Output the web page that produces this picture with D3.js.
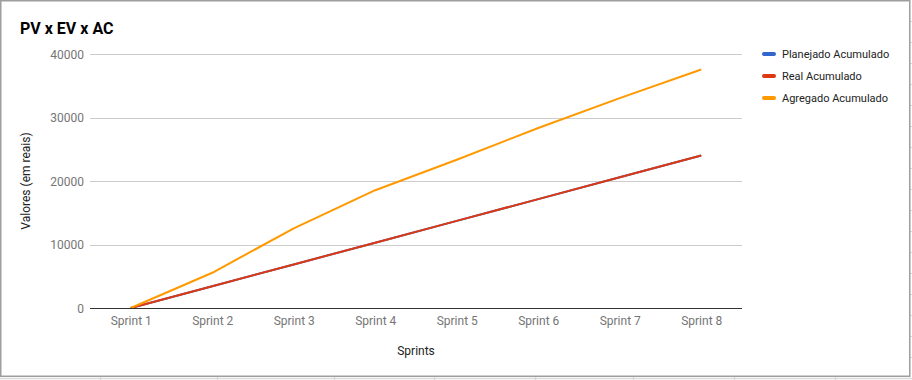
<!DOCTYPE html>
<html>
<head>
<meta charset="utf-8">
<script src="https://cdn.jsdelivr.net/npm/d3@7"></script>
<style>
html,body{margin:0;padding:0;background:#fff;}
svg{display:block;font-family:Roboto, "Noto Sans", Arial, sans-serif;}
</style>
</head>
<body>
<svg id="chart" width="912" height="380"></svg>
<script>
const categories = ["Sprint 1","Sprint 2","Sprint 3","Sprint 4","Sprint 5","Sprint 6","Sprint 7","Sprint 8"];
const planejado = [0, 3430, 6860, 10290, 13720, 17150, 20580, 24010];
const real      = [0, 3430, 6860, 10290, 13720, 17150, 20580, 24010];
const agregado  = [0, 5550, 12550, 18550, 23350, 28350, 33050, 37550];
const yTicks = [0, 10000, 20000, 30000, 40000];
const seriesNames = ["Planejado Acumulado","Real Acumulado","Agregado Acumulado"];
const seriesColors = ["#3366cc","#dc3912","#ff9900"];
const sheetColumns = [100, 217, 334, 434, 535, 633, 734, 835];
const sheetRows = [21, 42, 63, 84, 105, 126, 147, 168, 189, 210, 231, 252, 273, 294, 315, 336, 357];

(function(){
const svg = d3.select("#chart");

const sheet = svg.append("g");
sheet.append("line").attr("x1",0).attr("x2",912).attr("y1",378.5).attr("y2",378.5)
  .attr("stroke","#d9d9d9").attr("stroke-width",1.5);
sheet.selectAll("line.col").data(sheetColumns).enter().append("line")
  .attr("x1",d=>d+0.5).attr("x2",d=>d+0.5).attr("y1",377).attr("y2",380)
  .attr("stroke","#d9d9d9").attr("stroke-width",1.5);
sheet.selectAll("line.row").data(sheetRows).enter().append("line")
  .attr("x1",910).attr("x2",912).attr("y1",d=>d+0.5).attr("y2",d=>d+0.5)
  .attr("stroke","#d9d9d9");

svg.append("rect").attr("x",0.75).attr("y",0.75).attr("width",909).attr("height",375.5)
  .attr("fill","#fff").attr("stroke","#9e9e9e").attr("stroke-width",1.5);

const pLeft = 90, pRight = 742, pTop = 54, pBottom = 308;
const x = d3.scalePoint().domain(categories).range([pLeft, pRight]).padding(0.5);
const y = d3.scaleLinear().domain([0, 40000]).range([pBottom, pTop]);

svg.append("g").selectAll("line").data(yTicks.filter(d=>d!==0)).enter().append("line")
  .attr("x1",pLeft).attr("x2",pRight).attr("y1",d=>Math.round(y(d))+0.5).attr("y2",d=>Math.round(y(d))+0.5)
  .attr("stroke","#cccccc").attr("stroke-width",1);

const yAxis = d3.axisLeft(y).tickValues(yTicks).tickSize(0).tickPadding(0).tickFormat(d3.format("d"));
const yg = svg.append("g").attr("transform",`translate(${pLeft-6},0)`).call(yAxis);
yg.select(".domain").remove();
yg.selectAll("text").attr("fill","#757575").attr("font-size","12px").attr("font-family","Roboto").attr("dy","0.35em");

const xAxis = d3.axisBottom(x).tickSize(0).tickPadding(0);
const xg = svg.append("g").attr("transform",`translate(0,${pBottom+8})`).call(xAxis);
xg.select(".domain").remove();
xg.selectAll("text").attr("fill","#757575").attr("font-size","12px").attr("font-family","Roboto").attr("dy","0.75em");

const line = d3.line().x((d,i)=>x(categories[i])).y(d=>y(d));
[planejado, real, agregado].forEach((s,k)=>{
  svg.append("path").datum(s).attr("d",line).attr("fill","none")
    .attr("stroke",seriesColors[k]).attr("stroke-width",2).attr("stroke-linejoin","round");
});

svg.append("line").attr("x1",pLeft).attr("x2",pRight).attr("y1",Math.round(y(0))+0.5).attr("y2",Math.round(y(0))+0.5)
  .attr("stroke","#333333").attr("stroke-width",1);

svg.append("text").attr("x",20).attr("y",34).text("PV x EV x AC")
  .attr("font-size","16px").attr("font-weight","bold").attr("fill","#000").attr("font-family","Roboto");

svg.append("text").attr("transform",`translate(30,${(pTop+pBottom)/2}) rotate(-90)`)
  .attr("text-anchor","middle").attr("font-size","12px").attr("fill","#222").attr("font-family","Roboto")
  .text("Valores (em reais)");
svg.append("text").attr("x",(pLeft+pRight)/2).attr("y",355).attr("text-anchor","middle")
  .attr("font-size","12px").attr("fill","#222").attr("font-family","Roboto").text("Sprints");

const lg = svg.append("g");
seriesNames.forEach((n,i)=>{
  const yy = 54 + i*22;
  lg.append("line").attr("x1",764).attr("x2",774).attr("y1",yy).attr("y2",yy)
    .attr("stroke",seriesColors[i]).attr("stroke-width",4).attr("stroke-linecap","round");
  lg.append("text").attr("x",782).attr("y",yy).attr("dy","0.35em").attr("font-size","11px")
    .attr("fill","#222").attr("font-family","Roboto").text(n);
});
})();
</script>
</body>
</html>
